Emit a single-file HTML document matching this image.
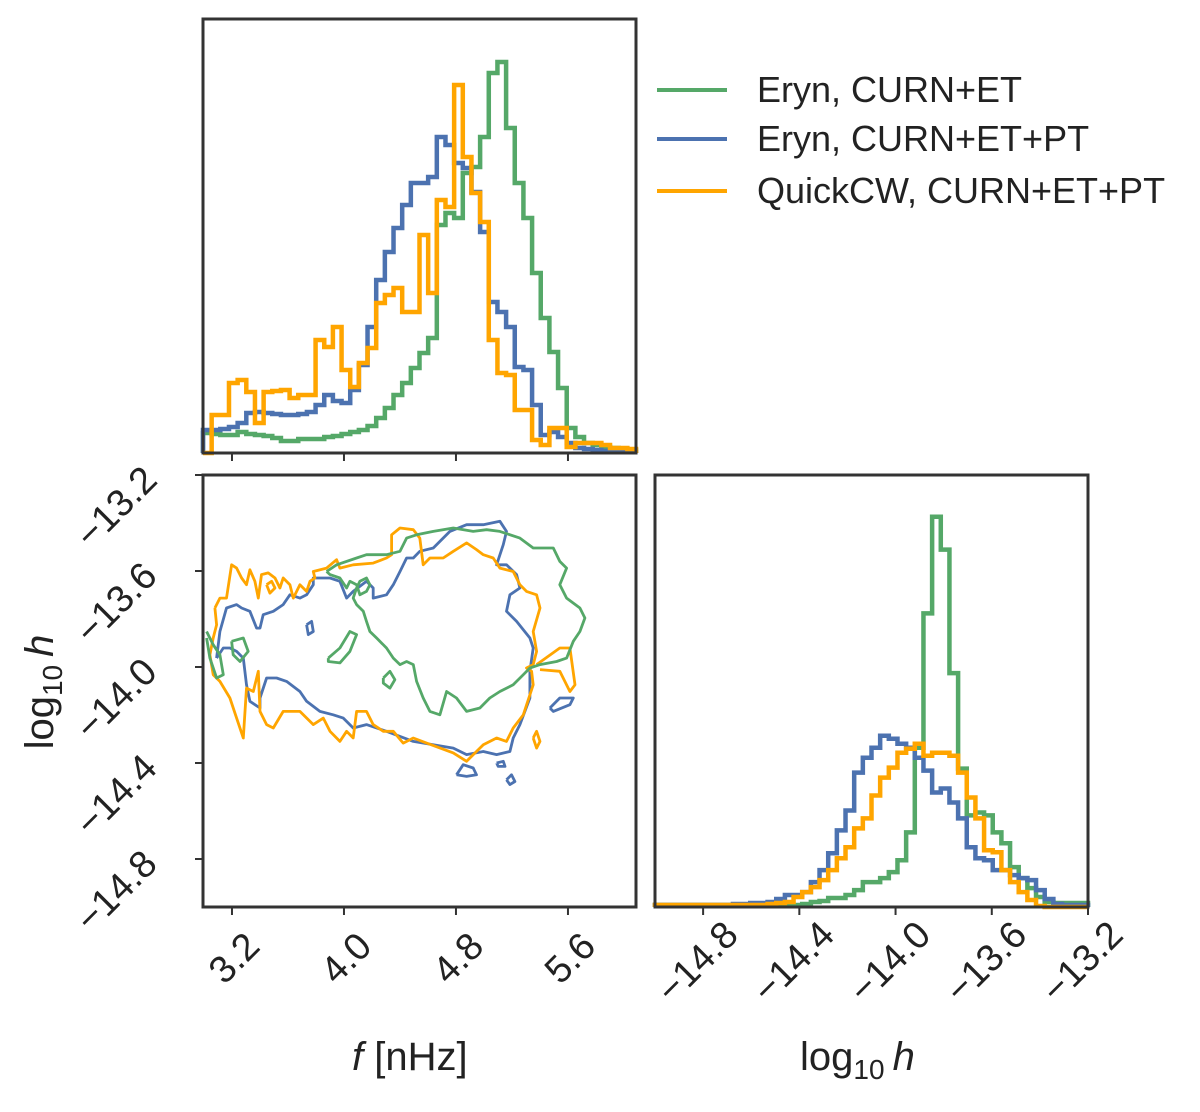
<!DOCTYPE html>
<html><head><meta charset="utf-8"><style>
body{margin:0;background:#fff}
svg{display:block;font-family:"Liberation Sans",sans-serif}
</style></head><body>
<svg id="chart" width="1200" height="1112" viewBox="0 0 1200 1112"></svg>
<script>
// ---- data ----
const fRange = [2.993, 6.086];
const hRange = [-15.0, -13.2];
const fTicks = [3.2, 4.0, 4.8, 5.6];
const fTickLabels = ["3.2", "4.0", "4.8", "5.6"];
const hTicks = [-13.2, -13.6, -14.0, -14.4, -14.8];
const hTickLabels = ["\u221213.2", "\u221213.6", "\u221214.0", "\u221214.4", "\u221214.8"];
const hxTicks = [-14.8, -14.4, -14.0, -13.6, -13.2];
const hxTickLabels = ["\u221214.8", "\u221214.4", "\u221214.0", "\u221213.6", "\u221213.2"];
const seriesNames = ["Eryn, CURN+ET", "Eryn, CURN+ET+PT", "QuickCW, CURN+ET+PT"];
const fGreen = [20,19,18,18,21,19,18,17,15,12,12,14,14,14,16,17,19,21,23,27,35,45,58,70,85,100,115,228,240,235,280,286,316,380,391,325,270,235,180,135,101,65,25,16,10,8,6,5,4,3];
const fBlue = [23,23,24,26,30,40,41,40,39,38,38,39,41,48,58,52,50,63,88,126,173,201,225,248,270,270,276,316,308,290,285,261,221,151,141,126,86,83,48,18,21,16,10,5,4,3,2,2,1,1];
const fOrange = [0,38,38,70,73,61,30,61,62,63,55,58,58,113,106,126,83,66,90,105,150,158,165,141,141,218,160,253,246,368,296,260,231,113,80,78,43,43,13,8,25,25,6,10,10,10,8,5,5,4];
const hGreen = [2,2,2,2,2,2,2,2,2,2,2,2,2,2,2,2,2,3,5,6,9,9,12,17,25,25,29,35,47,75,160,295,392,359,235,139,92,95,92,75,64,40,29,19,10,5,4,4,4,4];
const hBlue = [2,2,2,2,2,2,2,2,2,3,3,4,4,5,8,12,12,15,25,37,54,77,97,135,150,160,172,169,164,160,150,137,115,119,105,89,60,49,47,37,37,32,29,27,17,8,3,2,2,2];
const hOrange = [2,2,2,2,2,2,2,2,2,2,2,2,2,3,4,5,10,15,20,27,37,49,60,79,89,112,130,140,155,159,164,152,155,155,152,135,110,89,57,55,37,25,15,7,1,0,0,0,0,0];
const histMax = 434;
const zx = v => +(2.971 + v / 420).toFixed(3);
const zy = v => +(-13.296 - v / 720).toFixed(3);
const P = a => a.map(p => [zx(p[0]), zy(p[1])]);
const contOrange = [P([[45,330],[60,300],[80,300],[95,200],[110,210],[125,240],[140,260],[150,215],[165,250],[175,300],[185,230],[205,225],[225,240],[240,270],[250,240],[270,260],[280,300],[300,260],[320,280],[330,250],[345,240],[340,220],[380,210],[410,185],[420,210],[460,200],[520,195],[560,180],[575,170],[575,110],[600,90],[640,95],[660,120],[670,200],[690,180],[730,180],[760,160],[800,135],[830,155],[850,170],[880,180],[900,210],[940,220],[960,260],[980,280],[1010,290],[1020,330],[1000,400],[1010,460],[1000,500],[980,510],[995,520],[1000,560],[970,650],[940,690],[920,730],[890,720],[850,740],[800,790],[760,765],[680,735],[640,720],[610,735],[580,700],[550,700],[520,680],[500,640],[470,640],[460,720],[440,700],[420,730],[390,700],[370,660],[340,680],[300,640],[250,640],[220,690],[200,680],[180,640],[175,520],[160,580],[140,570],[130,720],[110,660],[90,600],[60,550],[40,530],[30,470],[40,420],[50,380],[45,330]]),
  P([[1010,500],[1080,450],[1110,450],[1125,560],[1110,580],[1080,520],[1020,515]]),
  P([[1000,720],[1010,700],[1020,730],[1010,750],[1000,720]]),
  P([[200,260],[215,250],[225,270],[210,285],[200,260]])];
const contBlue = [P([[50,480],[60,400],[80,330],[110,320],[125,330],[150,340],[170,390],[180,390],[190,350],[220,340],[250,320],[270,290],[300,300],[320,290],[340,260],[340,240],[390,240],[420,250],[440,300],[460,280],[500,250],[520,270],[520,300],[560,290],[580,260],[600,220],[620,180],[640,180],[660,160],[700,150],[750,100],[800,80],[850,80],[900,70],[920,100],[910,140],[890,200],[920,200],[950,230],[960,270],[930,290],[920,340],[950,370],[990,420],[1000,450],[990,520],[990,600],[960,680],[940,720],[930,760],[890,770],[850,760],[800,770],[760,750],[700,740],[640,730],[600,715],[560,700],[500,680],[460,690],[430,660],[400,650],[360,640],[320,610],[300,580],[260,550],[230,540],[200,540],[180,600],[180,630],[150,610],[140,560],[130,480],[110,460],[90,450],[70,450],[50,480]]),
  P([[770,830],[790,800],[820,810],[830,830],[800,835],[770,830]]),
  P([[920,845],[935,830],[945,850],[930,860],[920,845]]),
  P([[1050,630],[1080,600],[1120,600],[1110,620],[1060,640],[1050,630]]),
  P([[320,380],[335,370],[340,400],[325,410],[320,380]]),
  P([[890,795],[910,790],[915,805],[895,805],[890,795]])];
const contGreen = [P([[380,220],[410,200],[470,180],[500,170],[560,170],[600,160],[620,120],[650,110],[700,100],[760,90],[820,100],[860,95],[900,100],[960,120],[1000,150],[1040,150],[1060,150],[1080,190],[1100,210],[1080,260],[1100,300],[1140,330],[1155,360],[1140,400],[1120,430],[1100,480],[1070,490],[1020,500],[990,510],[970,530],[940,560],[900,580],[870,600],[840,630],[800,640],[770,600],[740,580],[720,650],[690,640],[670,600],[650,550],[640,500],[620,490],[600,500],[580,480],[560,450],[530,420],[510,400],[500,370],[490,340],[470,320],[460,300],[470,270],[480,250],[500,240],[510,260],[500,280],[480,290],[470,260],[450,250],[440,270],[420,240],[390,230],[380,220]]),
  P([[385,480],[420,450],[450,400],[470,410],[450,460],[420,495],[385,490],[385,480]]),
  P([[550,540],[570,520],[585,545],[570,570],[550,555],[550,540]]),
  P([[20,400],[40,440],[60,470],[70,530],[50,540],[30,480],[20,420]]),
  P([[95,430],[130,420],[145,460],[120,490],[100,470],[95,430]])];
const colors = {green:"#55a868", blue:"#4c72b0", orange:"#ffa500"};

// ---- layout ----
const svg = document.getElementById('chart');
const NS = "http://www.w3.org/2000/svg";
const TL = {x0:203, x1:636, y0:19, y1:453};
const BL = {x0:203, x1:636, y0:475, y1:907};
const BR = {x0:655, x1:1088, y0:475, y1:907};
const fx = v => TL.x0 + (v - fRange[0]) / (fRange[1] - fRange[0]) * (TL.x1 - TL.x0);
const hy = v => BL.y1 - (v - hRange[0]) / (hRange[1] - hRange[0]) * (BL.y1 - BL.y0);
const hx = v => BR.x0 + (v - hRange[0]) / (hRange[1] - hRange[0]) * (BR.x1 - BR.x0);
function mk(tag, attrs, parent){const e=document.createElementNS(NS,tag);for(const k in attrs)e.setAttribute(k,attrs[k]);(parent||svg).appendChild(e);return e;}

function hist(vals, panel, color, name){
  const n = vals.length, w = (panel.x1-panel.x0)/n, sc=(panel.y1-panel.y0)/histMax;
  let d = `M${panel.x0},${panel.y1}`;
  vals.forEach((v,i)=>{const y=panel.y1-v*sc; d+=` L${panel.x0+i*w},${y} L${panel.x0+(i+1)*w},${y}`;});
  d += ` L${panel.x1},${panel.y1}`;
  const p = mk('path',{d, fill:'none', stroke:color, 'stroke-width':4.5, 'stroke-linejoin':'miter'});
  
  
}
function contour(list, color, name){
  list.forEach(pts=>{
    const d = pts.map((p,i)=>(i?'L':'M')+fx(p[0]).toFixed(1)+','+hy(p[1]).toFixed(1)).join(' ');
    const p = mk('path',{d, fill:'none', stroke:color, 'stroke-width':2.8, 'stroke-linejoin':'round'});
    
    
  });
}

hist(fGreen, TL, colors.green, 'f-hist-green');
hist(fBlue, TL, colors.blue, 'f-hist-blue');
hist(fOrange, TL, colors.orange, 'f-hist-orange');
hist(hGreen, BR, colors.green, 'h-hist-green');
hist(hBlue, BR, colors.blue, 'h-hist-blue');
hist(hOrange, BR, colors.orange, 'h-hist-orange');
contour(contBlue, colors.blue, 'contour-blue');
contour(contOrange, colors.orange, 'contour-orange');
contour(contGreen, colors.green, 'contour-green');

[[TL,'top-panel-frame'],[BL,'joint-panel-frame'],[BR,'bottom-right-panel-frame']].forEach(([p,n])=>{
  const r = mk('rect',{x:p.x0,y:p.y0,width:p.x1-p.x0,height:p.y1-p.y0,fill:'none',stroke:'#333','stroke-width':3});
  
  
});
fTicks.forEach(t=>{
  mk('line',{x1:fx(t),x2:fx(t),y1:TL.y1,y2:TL.y1+8,stroke:'#333','stroke-width':2});
  mk('line',{x1:fx(t),x2:fx(t),y1:BL.y1,y2:BL.y1+8,stroke:'#333','stroke-width':2});
});
fTicks.forEach((t,i)=>{
  const cx = fx(t)+4, cy = 960;
  const tx = mk('text',{x:cx,y:cy,'font-size':38,fill:'#222','text-anchor':'middle','dominant-baseline':'middle',transform:`rotate(-45 ${cx} ${cy})`});
  tx.textContent = fTickLabels[i];
  
  
});
hTicks.forEach((t,i)=>{
  mk('line',{x1:BL.x0-8,x2:BL.x0,y1:hy(t),y2:hy(t),stroke:'#333','stroke-width':2});
  const cx = 118, cy = hy(t)+34;
  const tx = mk('text',{x:cx,y:cy,'font-size':38,fill:'#222','text-anchor':'middle','dominant-baseline':'middle',transform:`rotate(-45 ${cx} ${cy})`});
  tx.textContent = hTickLabels[i];
  
  
});
hxTicks.forEach((t,i)=>{
  mk('line',{x1:hx(t),x2:hx(t),y1:BR.y1,y2:BR.y1+8,stroke:'#333','stroke-width':2});
  const cx = hx(t)-4, cy = 964;
  const tx = mk('text',{x:cx,y:cy,'font-size':38,fill:'#222','text-anchor':'middle','dominant-baseline':'middle',transform:`rotate(-45 ${cx} ${cy})`});
  tx.textContent = hxTickLabels[i];
  
  
});
const legColors=[colors.green,colors.blue,colors.orange], legY=[90,139,191];
seriesNames.forEach((s,i)=>{
  const g = mk('g',{});
  
  
  mk('line',{x1:657,x2:727,y1:legY[i],y2:legY[i],stroke:legColors[i],'stroke-width':4},g);
  const t = mk('text',{x:757,y:legY[i]+12,'font-size':36,fill:'#222'},g);
  t.textContent = s;
});
</script>
<div style="position:absolute;left:0;top:0;width:1200px;height:1112px;pointer-events:none">
  <div style="position:absolute;left:352px;top:1035px;font:40px 'Liberation Sans',sans-serif;color:#222;white-space:nowrap"><i>f</i> [nHz]</div>
  <div style="position:absolute;left:800px;top:1035px;font:40px 'Liberation Sans',sans-serif;color:#222;white-space:nowrap">log<sub style="font-size:28px">10</sub>&#8201;<i>h</i></div>
  <div style="position:absolute;left:-30px;top:665px;width:150px;transform:rotate(-90deg);transform-origin:75px 27px;font:40px 'Liberation Sans',sans-serif;color:#222;white-space:nowrap;text-align:center">log<sub style="font-size:28px">10</sub>&#8201;<i>h</i></div>
</div>
</body></html>
